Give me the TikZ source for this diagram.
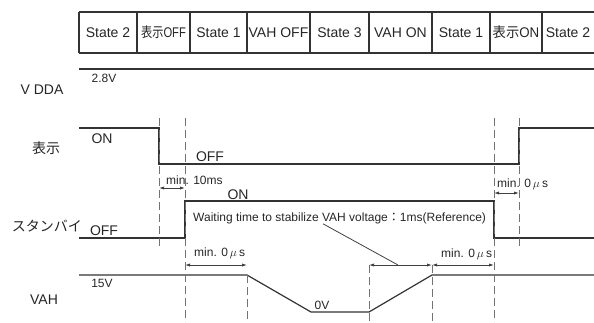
\documentclass[tikz,border=0pt]{standalone}
\usepackage{fontspec}
\setmainfont{Liberation Sans}
\newfontfamily\jpfont{Noto Sans CJK JP}
\usetikzlibrary{arrows.meta}
\begin{document}
\begin{tikzpicture}
[x=1pt,y=-1pt,
  signaldecorate/.style={draw=black!80,line width=1.2pt},
  tabledecorate/.style={draw=black!80,line width=1.1pt},
  guidedecorate/.style={draw=black!55,line width=0.9pt,dash pattern=on 8pt off 4pt},
  dimdecorate/.style={draw=black!75,line width=0.8pt,
    {Latex[length=5pt,width=3.2pt]}-{Latex[length=5pt,width=3.2pt]}},
  leaderdecorate/.style={draw=black!75,line width=0.8pt},
  bigtext/.style={font=\fontsize{14}{16}\selectfont,inner sep=0pt,text=black!85},
  smalltext/.style={font=\fontsize{12}{14}\selectfont,inner sep=0pt,text=black!85}]
\useasboundingbox (0,0) rectangle (594,322);
%% state table
\draw[tabledecorate] (79,12) -- (594,12) (79,53) -- (594,53);
\foreach \cellname/\xl/\xr/\celltext in {
  st1/79/137/State 2, st2/137/190/\scalebox{.8}[1]{{\jpfont 表示}OFF},
  st3/190/247/State 1, st4/247/310/VAH OFF, st5/310/369/State 3,
  st6/369/432/VAH ON, st7/432/490/State 1,
  st8/490/542/\scalebox{.95}[1]{{\jpfont 表示}ON}, st9/542/594/State 2}
{
  \draw[tabledecorate] (\xl,12) -- (\xl,53);
  \node[bigtext] (\cellname) at ({(\xl+\xr)/2},32.5) {\celltext};
}
%% points of the signals
\foreach \pointname/\x/\y in {
  %% VDDA
  vd0/79/69, vd1/594/69,
  %% display
  dp0/79/128, dp1/159/128, dp2/159/164, dp3/519/164, dp4/519/128, dp5/594/128,
  %% standby
  sb0/79/238, sb1/185/238, sb2/185/201, sb3/494/201, sb4/494/238, sb5/594/238,
  %% VAH
  vh0/79/275, vh1/247/275, vh2/311/312, vh3/369/312, vh4/432/275, vh5/594/275}
{
  \coordinate (\pointname) at (\x,\y);
}
\draw[signaldecorate] (vd0) -- (vd1);
\draw[signaldecorate] (dp0) -- (dp1) -- (dp2) -- (dp3) -- (dp4) -- (dp5);
\draw[signaldecorate] (sb0) -- (sb1) -- (sb2) -- (sb3) -- (sb4) -- (sb5);
\draw[signaldecorate] (vh0) -- (vh1) -- (vh2) -- (vh3) -- (vh4) -- (vh5);
%% dashed guides
\foreach \guidename/\x/\ytop/\ybot in {
  g1/159/118/248, g2/185/118/322, g3/247/275/322, g4/369/265/322,
  g5/432/265/322, g6/494/118/322, g7/519/118/248}
{
  \coordinate (\guidename t) at (\x,\ytop);
  \coordinate (\guidename b) at (\x,\ybot);
  \draw[guidedecorate] (\guidename t) -- (\guidename b);
}
%% dimension arrows
\foreach \startnode/\endnode/\y in {g1/g2/188, g6/g7/193, g2/g3/265, g4/g5/265, g5/g6/265}
{
  \draw[dimdecorate] (\startnode t |- 0,\y) -- (\endnode t |- 0,\y);
}
%% labels
\node[bigtext] (vddalabel) at (42,90) {V DDA};
\node[smalltext] (vddalevel) at (104,78) {2.8V};
\node[bigtext] (dplabel) at (46,148) {\jpfont 表示};
\node[bigtext] (dpon) at (102,139) {ON};
\node[bigtext] (dpoff) at (210,157) {OFF};
\node[bigtext] (sblabel) at (47,226) {\jpfont スタンバイ};
\node[bigtext] (sbon) at (238,195) {ON};
\node[bigtext] (sboff) at (104,231) {OFF};
\node[bigtext] (vhlabel) at (44,300) {VAH};
\node[smalltext] (vhhigh) at (102,283) {15V};
\node[smalltext] (vhlow) at (322,305) {0V};
\node[smalltext,anchor=west] (dim10ms) at (166,180) {min. 10ms};
\node[smalltext,anchor=west] (dimdpon) at (497,184) {min. 0\,$\mu$\,s};
\node[smalltext,anchor=west] (dimvhoff) at (194,253) {min. 0\,$\mu$\,s};
\node[smalltext,anchor=west] (dimvhon) at (441,254) {min. 0\,$\mu$\,s};
\node[smalltext,anchor=west] (waitnote) at (193,218)
  {Waiting time to stabilize VAH voltage{\jpfont ：}1ms(Reference)};
\coordinate (leadend) at (398,265);
\draw[leaderdecorate] (waitnote.south west -| 323,0) -- (leadend);
\end{tikzpicture}
\end{document}
